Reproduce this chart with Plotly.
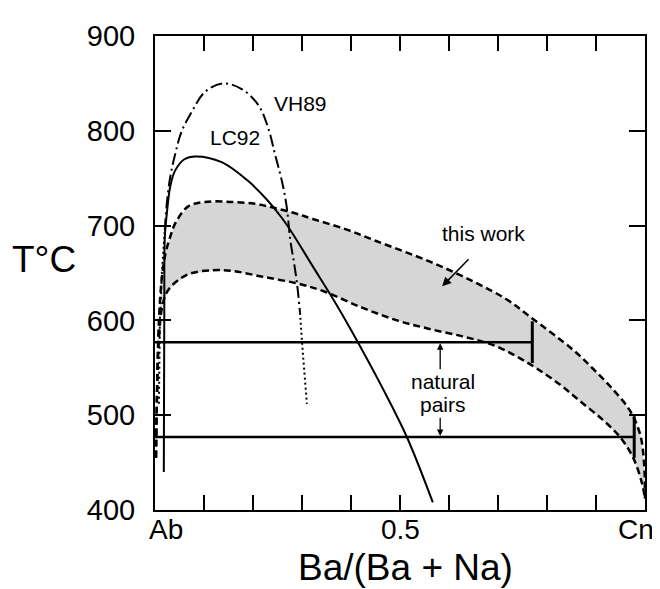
import plotly.graph_objects as go

# ---- data ----
# LC92 solvus (solid)
lc92_x = [0.018, 0.019, 0.020, 0.024, 0.031, 0.041, 0.060, 0.082, 0.136, 0.188, 0.229, 0.259, 0.279, 0.322, 0.371, 0.414, 0.465, 0.514, 0.567]
lc92_t = [440, 619, 688, 712, 741, 758, 770, 773, 767, 748, 727, 708, 693, 657, 616, 577, 528, 477, 408]

# VH89 solvus (dash-dot, with dotted metastable ends)
vh89_x = [0.020, 0.024, 0.031, 0.041, 0.054, 0.075, 0.102, 0.139, 0.177, 0.211, 0.231, 0.245, 0.259, 0.269, 0.276, 0.284, 0.29, 0.296]
vh89_t = [695, 723, 751, 775, 799, 820, 841, 850, 844, 827, 803, 775, 747, 719, 685, 660, 638, 608]
vh89_left_dot_x = [0.008, 0.010, 0.014, 0.020]
vh89_left_dot_t = [512, 600, 650, 695]
vh89_right_dot_x = [0.296, 0.30, 0.31]
vh89_right_dot_t = [608, 577, 512]

# this work: band limits (dashed)
upper_x = [0.002, 0.004, 0.008, 0.014, 0.022, 0.031, 0.041, 0.067, 0.102, 0.153, 0.204, 0.241, 0.286, 0.322, 0.39, 0.45, 0.561, 0.65, 0.718, 0.765, 0.853, 0.894, 0.935, 0.969, 0.99, 0.998, 1.0]
upper_t = [455, 520, 600, 645, 672, 688, 702, 720, 725, 725, 723, 719, 713, 707, 696, 684, 662, 641, 622, 604, 569, 549, 527, 505, 480, 450, 412]
lower_x = [0.002, 0.004, 0.008, 0.015, 0.027, 0.065, 0.118, 0.16, 0.22, 0.29, 0.343, 0.42, 0.494, 0.56, 0.629, 0.69, 0.738, 0.78, 0.827, 0.867, 0.914, 0.949, 0.976, 0.994, 1.0]
lower_t = [455, 520, 580, 615, 632, 648, 653, 652, 646, 639, 631, 614, 600, 591, 583, 574, 562, 549, 532, 515, 495, 477, 455, 428, 412]

# natural pairs
pair_t = [577, 477]
pair_x_end = [0.77, 0.978]
pair_cap_half = 22

x_ticks = [0, 0.1, 0.2, 0.3, 0.4, 0.5, 0.6, 0.7, 0.8, 0.9, 1.0]
x_labels = ["Ab", "0.5", "Cn"]
x_label_pos = [0.022, 0.5, 0.982]
y_ticks = [400, 500, 600, 700, 800, 900]

FONT = "Liberation Sans, Arial, Helvetica, sans-serif"

fig = go.Figure()

# shaded band
fig.add_trace(go.Scatter(
    x=upper_x + lower_x[::-1], y=upper_t + lower_t[::-1],
    fill="toself", fillcolor="rgb(214,214,214)", mode="none",
    hoverinfo="skip", showlegend=False))

dash_band = "7px,4px"
fig.add_trace(go.Scatter(x=upper_x, y=upper_t, mode="lines", line_shape="spline",
                         line=dict(color="black", width=2.5, dash=dash_band), showlegend=False))
fig.add_trace(go.Scatter(x=lower_x, y=lower_t, mode="lines", line_shape="spline",
                         line=dict(color="black", width=2.5, dash=dash_band), showlegend=False))

# VH89
fig.add_trace(go.Scatter(x=vh89_x, y=vh89_t, mode="lines", line_shape="spline",
                         line=dict(color="black", width=2, dash="12px,4px,2px,4px"), showlegend=False))
for xs, ts in [(vh89_left_dot_x, vh89_left_dot_t), (vh89_right_dot_x, vh89_right_dot_t)]:
    fig.add_trace(go.Scatter(x=xs, y=ts, mode="lines",
                             line=dict(color="black", width=2, dash="2px,3px"), showlegend=False))

# LC92
fig.add_trace(go.Scatter(x=lc92_x, y=lc92_t, mode="lines", line_shape="spline",
                         line=dict(color="black", width=2), showlegend=False))

# natural pairs
for t, xe in zip(pair_t, pair_x_end):
    fig.add_trace(go.Scatter(x=[0, xe], y=[t, t], mode="lines",
                             line=dict(color="black", width=2.5), showlegend=False))
    fig.add_trace(go.Scatter(x=[xe, xe], y=[t - pair_cap_half, t + pair_cap_half], mode="lines",
                             line=dict(color="black", width=3), showlegend=False))

TXT = dict(size=21, family=FONT, color="black")
ann = []
ann.append(dict(x=0.296, y=829, text="VH89", showarrow=False, font=TXT))
ann.append(dict(x=0.163, y=793, text="LC92", showarrow=False, font=TXT))
ann.append(dict(x=0.671, y=692, text="this work", showarrow=False, font=TXT))
ann.append(dict(x=0.586, y=636, ax=0.643, ay=666, xref="x", yref="y", axref="x", ayref="y",
                text="", showarrow=True, arrowhead=2, arrowsize=1.2, arrowwidth=1.5, arrowcolor="black"))
ann.append(dict(x=0.588, y=536, text="natural", showarrow=False, font=TXT))
ann.append(dict(x=0.588, y=511, text="pairs", showarrow=False, font=TXT))
ann.append(dict(x=0.582, y=576, ax=0.582, ay=547, xref="x", yref="y", axref="x", ayref="y",
                text="", showarrow=True, arrowhead=2, arrowsize=1, arrowwidth=1.3, arrowcolor="black"))
ann.append(dict(x=0.582, y=478, ax=0.582, ay=499, xref="x", yref="y", axref="x", ayref="y",
                text="", showarrow=True, arrowhead=2, arrowsize=1, arrowwidth=1.3, arrowcolor="black"))
for lab, xp in zip(x_labels, x_label_pos):
    ann.append(dict(x=xp, y=-0.005, xref="x", yref="paper", yanchor="top", text=lab, showarrow=False,
                    font=dict(size=28, family=FONT, color="black")))
ann.append(dict(x=0.512, y=-0.073, xref="x", yref="paper", yanchor="top", text="Ba/(Ba + Na)",
                showarrow=False, font=dict(size=37, family=FONT, color="black")))
ann.append(dict(x=(44 - 155) / 490, y=(510 - 256) / 480, xref="paper", yref="paper",
                xanchor="center", yanchor="middle", text="T°C", showarrow=False,
                font=dict(size=37, family=FONT, color="black")))

# the page body adds an 8 px offset; size the figure so the plot frame lands where the reference has it
fig.update_layout(
    width=652, height=581,
    margin=dict(l=147, r=15, t=22, b=79),
    paper_bgcolor="white", plot_bgcolor="white",
    showlegend=False,
    annotations=ann,
    font=dict(family=FONT, color="black"),
)
fig.update_xaxes(range=[0, 1], tickvals=x_ticks, showticklabels=False, ticks="inside", ticklen=15,
                 tickwidth=1.5, tickcolor="black", showline=True, linecolor="black", linewidth=2,
                 mirror="allticks", showgrid=False, zeroline=False)
fig.update_yaxes(range=[400, 900], tickvals=y_ticks, ticks="inside", ticklen=16,
                 tickwidth=1.5, tickcolor="black", showline=True, linecolor="black", linewidth=2,
                 mirror="allticks", showgrid=False, zeroline=False,
                 tickfont=dict(size=29, family=FONT, color="black"), ticklabelstandoff=12)

fig.write_html("out.html")
